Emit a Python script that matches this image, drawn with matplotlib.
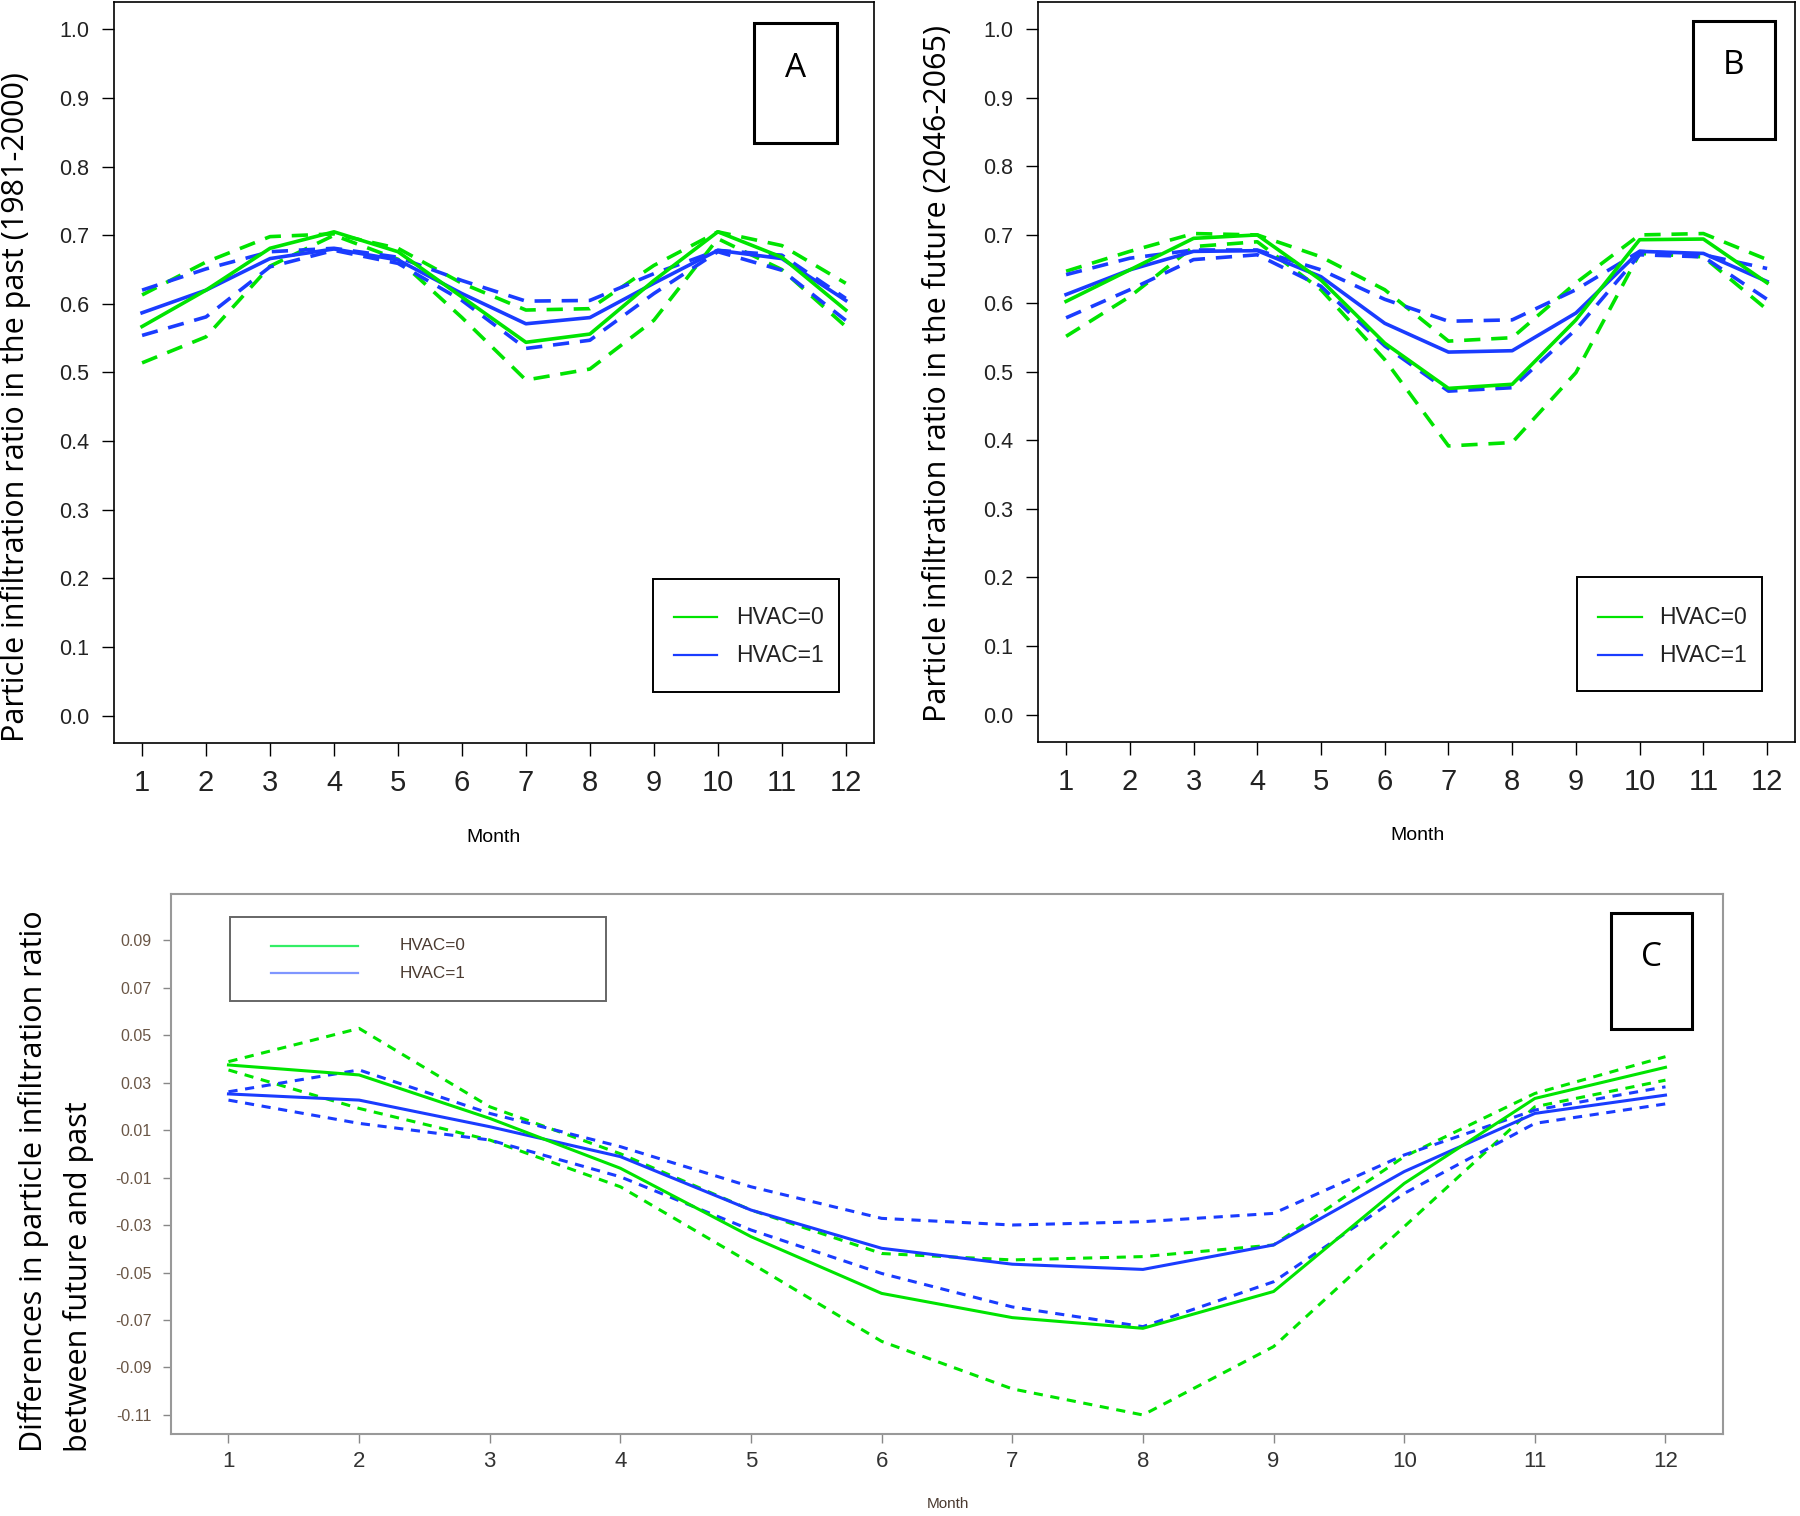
import matplotlib
matplotlib.use('Agg')
import matplotlib.pyplot as plt
from matplotlib.patches import Rectangle

months = list(range(1, 13))

# panel A: past (1981-2000)
a_h0_mean = [0.567, 0.620, 0.681, 0.705, 0.676, 0.610, 0.544, 0.556, 0.634, 0.705, 0.668, 0.591]
a_h0_hi = [0.613, 0.661, 0.698, 0.702, 0.681, 0.630, 0.591, 0.593, 0.656, 0.705, 0.685, 0.630]
a_h0_lo = [0.514, 0.552, 0.655, 0.700, 0.665, 0.580, 0.489, 0.505, 0.576, 0.695, 0.650, 0.567]
a_h1_mean = [0.587, 0.620, 0.666, 0.680, 0.664, 0.615, 0.571, 0.580, 0.630, 0.678, 0.666, 0.605]
a_h1_hi = [0.620, 0.651, 0.676, 0.681, 0.668, 0.634, 0.604, 0.605, 0.644, 0.678, 0.671, 0.608]
a_h1_lo = [0.554, 0.581, 0.654, 0.678, 0.659, 0.605, 0.535, 0.547, 0.615, 0.676, 0.649, 0.576]

# panel B: future (2046-2065)
b_h0_mean = [0.603, 0.649, 0.695, 0.700, 0.634, 0.542, 0.476, 0.482, 0.576, 0.693, 0.694, 0.630]
b_h0_hi = [0.647, 0.676, 0.702, 0.700, 0.668, 0.620, 0.545, 0.550, 0.630, 0.700, 0.702, 0.664]
b_h0_lo = [0.552, 0.610, 0.683, 0.690, 0.620, 0.518, 0.392, 0.397, 0.499, 0.673, 0.668, 0.591]
b_h1_mean = [0.613, 0.649, 0.676, 0.677, 0.639, 0.571, 0.529, 0.531, 0.586, 0.676, 0.673, 0.632]
b_h1_hi = [0.642, 0.666, 0.678, 0.678, 0.649, 0.606, 0.574, 0.576, 0.620, 0.676, 0.671, 0.651]
b_h1_lo = [0.579, 0.620, 0.664, 0.671, 0.625, 0.538, 0.472, 0.477, 0.562, 0.671, 0.668, 0.606]

# panel C: future minus past
c_h0_mean = [0.0374, 0.0332, 0.0149, -0.0061, -0.0349, -0.0588, -0.0690, -0.0735, -0.0580, -0.0125, 0.0233, 0.0364]
c_h0_hi = [0.0388, 0.0528, 0.0198, 0.0000, -0.0237, -0.0420, -0.0447, -0.0433, -0.0384, -0.0012, 0.0254, 0.0409]
c_h0_lo = [0.0353, 0.0191, 0.0058, -0.0139, -0.0461, -0.0790, -0.0990, -0.1100, -0.0812, -0.0307, 0.0198, 0.0310]
c_h1_mean = [0.0252, 0.0226, 0.0114, -0.0012, -0.0237, -0.0398, -0.0465, -0.0487, -0.0384, -0.0075, 0.0170, 0.0247]
c_h1_hi = [0.0261, 0.0353, 0.0170, 0.0030, -0.0139, -0.0272, -0.0300, -0.0286, -0.0251, -0.0005, 0.0184, 0.0282]
c_h1_lo = [0.0226, 0.0128, 0.0058, -0.0097, -0.0321, -0.0504, -0.0645, -0.0728, -0.0539, -0.0167, 0.0128, 0.0210]

a_ticks = [0.0, 0.1, 0.2, 0.3, 0.4, 0.5, 0.6, 0.7, 0.8, 0.9, 1.0]
c_ticks = [0.09, 0.07, 0.05, 0.03, 0.01, -0.01, -0.03, -0.05, -0.07, -0.09, -0.11]
legend_labels = ['HVAC=0', 'HVAC=1']

GREEN = '#00e400'
BLUE = '#1a3cff'
W, H = 1800, 1516

plt.rcParams['font.family'] = ['Liberation Sans', 'DejaVu Sans']

fig = plt.figure(figsize=(18, 15.16), dpi=100)


def box_legend(box, line_x, rows, text_x, colors, size, edge, tcolor, lw=1.6):
    # legend drawn in figure pixels (from the top-left corner)
    x0, y0, x1, y1 = box
    fig.patches.append(Rectangle((x0 / W, 1 - y1 / H), (x1 - x0) / W, (y1 - y0) / H,
                                 transform=fig.transFigure, fill=False, lw=1.4, ec=edge,
                                 zorder=5))
    for y, c, lab in zip(rows, colors, legend_labels):
        fig.add_artist(plt.Line2D([line_x[0] / W, line_x[1] / W], [1 - y / H, 1 - y / H],
                                  transform=fig.transFigure, color=c, lw=lw))
        fig.text(text_x / W, 1 - y / H, lab, fontsize=size, ha='left', va='center',
                 color=tcolor)


def letter_box(box, letter):
    x0, y0, x1, y1 = box
    fig.patches.append(Rectangle((x0 / W, 1 - y1 / H), (x1 - x0) / W, (y1 - y0) / H,
                                 transform=fig.transFigure, fill=False, lw=2.2, ec='black',
                                 zorder=5))
    # letter sits a bit above the middle of the box
    fig.text((x0 + x1) / 2 / W, 1 - (y0 + 0.38 * (y1 - y0)) / H, letter, fontsize=24,
             ha='center', va='center', family='Open Sans')


def top_panel(rect, h0, h1):
    ax = fig.add_axes(rect)
    h0_mean, h0_hi, h0_lo = h0
    h1_mean, h1_hi, h1_lo = h1
    ax.plot(months, h0_hi, color=GREEN, lw=2.6, dashes=(4.5, 3))
    ax.plot(months, h0_lo, color=GREEN, lw=2.6, dashes=(4.5, 3))
    ax.plot(months, h1_hi, color=BLUE, lw=2.6, dashes=(4.5, 3))
    ax.plot(months, h1_lo, color=BLUE, lw=2.6, dashes=(4.5, 3))
    ax.plot(months, h1_mean, color=BLUE, lw=2.6)
    ax.plot(months, h0_mean, color=GREEN, lw=2.6)
    ax.set_xlim(0.56, 12.44)
    ax.set_ylim(-0.04, 1.04)
    ax.set_xticks(months)
    ax.set_yticks(a_ticks)
    ax.set_yticklabels(['%.1f' % t for t in a_ticks])
    ax.tick_params(axis='x', labelsize=21, length=9, width=1, pad=10, labelcolor='#222222')
    ax.tick_params(axis='y', labelsize=15.5, length=9, width=1, pad=9, labelcolor='#222222')
    for sp in ax.spines.values():
        sp.set_linewidth(1.2)
    return ax


ax_a = top_panel([0.0633, 0.5099, 0.4222, 0.4888],
                 (a_h0_mean, a_h0_hi, a_h0_lo), (a_h1_mean, a_h1_hi, a_h1_lo))
ax_b = top_panel([0.5767, 0.5106, 0.4206, 0.4881],
                 (b_h0_mean, b_h0_hi, b_h0_lo), (b_h1_mean, b_h1_hi, b_h1_lo))

fig.text(16 / W, 1 - 407 / H, 'Particle infiltration ratio in the past (1981-2000)',
         rotation=90, fontsize=22, family='Open Sans', ha='center', va='center')
fig.text(938 / W, 1 - 374 / H, 'Particle infiltration ratio in the future (2046-2065)',
         rotation=90, fontsize=22, family='Open Sans', ha='center', va='center')
fig.text(494 / W, 1 - 837 / H, 'Month', fontsize=14, ha='center', va='center')
fig.text(1417 / W, 1 - 836 / H, 'Month', fontsize=14, ha='center', va='center')

letter_box((754, 23, 837, 143), 'A')
letter_box((1693, 21, 1775, 139), 'B')
box_legend((653, 579, 839, 692), (674, 717), (617, 655), 736, (GREEN, BLUE), 16.5,
           'black', '#222222')
box_legend((1577, 577, 1762, 691), (1598, 1642), (617, 655), 1659, (GREEN, BLUE), 16.5,
           'black', '#222222')

# panel C
ax_c = fig.add_axes([0.095, 0.0541, 0.8622, 0.3562])
ax_c.plot(months, c_h0_hi, color=GREEN, lw=2.2, dashes=(3, 2.5))
ax_c.plot(months, c_h0_lo, color=GREEN, lw=2.2, dashes=(3, 2.5))
ax_c.plot(months, c_h1_hi, color=BLUE, lw=2.2, dashes=(3, 2.5))
ax_c.plot(months, c_h1_lo, color=BLUE, lw=2.2, dashes=(3, 2.5))
ax_c.plot(months, c_h1_mean, color=BLUE, lw=2.2)
ax_c.plot(months, c_h0_mean, color=GREEN, lw=2.2)
ax_c.set_xlim(0.56, 12.44)
ax_c.set_ylim(-0.118, 0.1094)
ax_c.set_xticks(months)
ax_c.set_yticks(c_ticks)
ax_c.set_yticklabels(['%.2f' % t for t in c_ticks])
ax_c.tick_params(axis='x', labelsize=16, length=6.5, width=1, color='#888888',
                 labelcolor='#333333', pad=6)
ax_c.tick_params(axis='y', labelsize=11.5, length=6, width=1, color='#888888',
                 labelcolor='#6a5646', pad=8)
for sp in ax_c.spines.values():
    sp.set_color('#999999')
    sp.set_linewidth(1.5)

letter_box((1611, 913, 1692, 1029), 'C')
box_legend((230, 917, 606, 1001), (271, 358), (946, 973), 400, ('#33ee66', '#7f96ff'), 12.3,
           '#666666', '#4a3a30')
fig.text(56 / W, 1 - 1452 / H,
         'Differences in particle infiltration ratio\nbetween future and past',
         rotation=90, fontsize=22, family='Open Sans', ha='center', va='bottom',
         multialignment='left', linespacing=1.6)
fig.text(948 / W, 1 - 1504 / H, 'Month', fontsize=11, ha='center', va='center',
         color='#4a3a30')

fig.savefig('out.png', dpi=100)
